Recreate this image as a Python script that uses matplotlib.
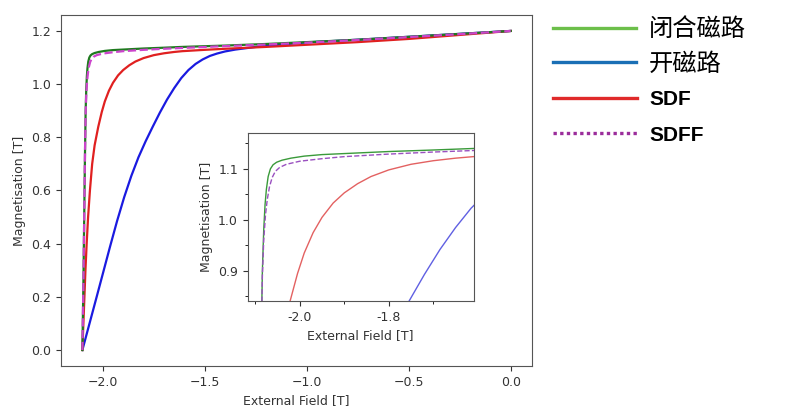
import matplotlib
matplotlib.use("Agg")
import matplotlib.pyplot as plt
from matplotlib.lines import Line2D

# closed magnetic circuit
closed_field = [-2.100, -2.095, -2.091, -2.087, -2.084, -2.081, -2.078, -2.075, -2.071,
                -2.066, -2.060, -2.052, -2.040, -2.020, -1.990, -1.950, -1.900, -1.800,
                -1.700, -1.610, -1.400, -1.200, -1.000, -0.750, -0.500, -0.250, 0.000]
closed_mag = [0.000, 0.250, 0.500, 0.750, 0.900, 0.980, 1.030, 1.060, 1.085,
              1.100, 1.108, 1.113, 1.117, 1.121, 1.125, 1.128, 1.130, 1.134,
              1.137, 1.140, 1.145, 1.151, 1.158, 1.167, 1.178, 1.189, 1.200]

# open magnetic circuit
open_field = [-2.100, -2.065, -2.030, -1.997, -1.964, -1.930, -1.895, -1.860, -1.825,
              -1.790, -1.755, -1.720, -1.685, -1.650, -1.615, -1.580, -1.545, -1.510,
              -1.475, -1.440, -1.400, -1.350, -1.300, -1.250, -1.200, -1.000, -0.750,
              -0.500, -0.250, 0.000]
open_mag = [0.000, 0.100, 0.200, 0.295, 0.390, 0.485, 0.575, 0.655, 0.725,
            0.785, 0.840, 0.893, 0.942, 0.985, 1.023, 1.053, 1.076, 1.093,
            1.106, 1.115, 1.123, 1.130, 1.135, 1.140, 1.144, 1.157, 1.167,
            1.178, 1.189, 1.200]

# SDF
sdf_field = [-2.100, -2.095, -2.090, -2.085, -2.079, -2.072, -2.063, -2.052, -2.040,
             -2.022, -2.005, -1.990, -1.970, -1.950, -1.925, -1.900, -1.870, -1.840,
             -1.800, -1.750, -1.700, -1.650, -1.610, -1.500, -1.400, -1.200, -1.000,
             -0.750, -0.500, -0.250, 0.000]
sdf_mag = [0.000, 0.100, 0.200, 0.300, 0.400, 0.500, 0.600, 0.700, 0.770,
           0.840, 0.895, 0.935, 0.975, 1.005, 1.033, 1.053, 1.071, 1.085,
           1.098, 1.109, 1.116, 1.121, 1.124, 1.129, 1.133, 1.140, 1.148,
           1.158, 1.170, 1.185, 1.200]

# SDFF
sdff_field = [-2.100, -2.095, -2.091, -2.087, -2.084, -2.081, -2.077, -2.073, -2.068,
              -2.062, -2.055, -2.045, -2.030, -2.000, -1.950, -1.900, -1.800, -1.700,
              -1.610, -1.400, -1.200, -1.000, -0.750, -0.500, -0.250, 0.000]
sdff_mag = [0.000, 0.250, 0.500, 0.750, 0.890, 0.960, 1.010, 1.040, 1.065,
            1.083, 1.095, 1.103, 1.109, 1.115, 1.120, 1.124, 1.129, 1.133,
            1.136, 1.143, 1.149, 1.156, 1.166, 1.177, 1.188, 1.200]

legend_labels = ["闭合磁路", "开磁路", "SDF", "SDFF"]

spine_c = "#555555"

fig = plt.figure(figsize=(7.99, 4.11), dpi=100)
ax = fig.add_axes([0.0763, 0.1095, 0.5897, 0.854])

ax.plot(open_field, open_mag, color="#1a1ae0", lw=1.6)
ax.plot(sdf_field, sdf_mag, color="#e02020", lw=1.6)
ax.plot(closed_field, closed_mag, color="#1f7a1f", lw=1.6)
ax.plot(sdff_field, sdff_mag, color="#cc44cc", lw=1.6, ls="--")
ax.set_xticks([-2.0, -1.5, -1.0, -0.5, 0.0])
ax.set_yticks([0.0, 0.2, 0.4, 0.6, 0.8, 1.0, 1.2])
ax.set_xlabel("External Field [T]", fontsize=9, color="#333333")
ax.set_ylabel("Magnetisation [T]", fontsize=9, color="#333333")
ax.tick_params(labelsize=9, colors="#333333")
for s in ax.spines.values():
    s.set_color(spine_c)

# zoomed inset
ins = fig.add_axes([0.310, 0.2676, 0.283, 0.4084])
ins.plot(open_field, open_mag, color="#4444dd", lw=1.0, alpha=0.85)
ins.plot(sdf_field, sdf_mag, color="#e05050", lw=1.0, alpha=0.9)
ins.plot(closed_field, closed_mag, color="#3a9a3a", lw=1.0)
ins.plot(sdff_field, sdff_mag, color="#9a50c0", lw=1.0, ls="--")
ins.set_xlim(-2.117, -1.609)
ins.set_ylim(0.841, 1.17)
ins.set_xticks([-2.0, -1.8])
ins.set_xticklabels(["-2.0", "-1.8"])
ins.set_xticks([-2.1, -1.9, -1.7], minor=True)
ins.set_yticks([0.9, 1.0, 1.1])
ins.set_yticks([0.85, 0.95, 1.05, 1.15], minor=True)
ins.set_xlabel("External Field [T]", fontsize=9, color="#333333")
ins.set_ylabel("Magnetisation [T]", fontsize=9, color="#333333")
ins.tick_params(labelsize=9, colors="#333333")
for s in ins.spines.values():
    s.set_color(spine_c)

handles = [
    Line2D([], [], color="#6cbf4a", lw=2.4),
    Line2D([], [], color="#1a6fb5", lw=2.4),
    Line2D([], [], color="#e02a2a", lw=2.4),
    Line2D([], [], color="#9b2d9b", lw=2.4, ls=(0, (1, 1))),
]
# two legend blocks: the Chinese rows and the English rows are spaced differently
leg_cn = fig.legend(handles[:2], legend_labels[:2], loc="center left",
                    bbox_to_anchor=(0.6925, 0.887), frameon=False,
                    handlelength=3.42, handletextpad=0.5, labelspacing=0.33,
                    borderpad=0.0, borderaxespad=0.0,
                    prop={"family": ["Noto Sans CJK SC", "DejaVu Sans"], "size": 17.5})
leg_en = fig.legend(handles[2:], legend_labels[2:], loc="center left",
                    bbox_to_anchor=(0.6925, 0.714), frameon=False,
                    handlelength=4.0, handletextpad=0.6,
                    labelspacing=0.79, borderpad=0.0, borderaxespad=0.0,
                    prop={"family": ["Liberation Sans", "DejaVu Sans"], "size": 15,
                          "weight": "bold"})

fig.savefig("out.png", dpi=100)
